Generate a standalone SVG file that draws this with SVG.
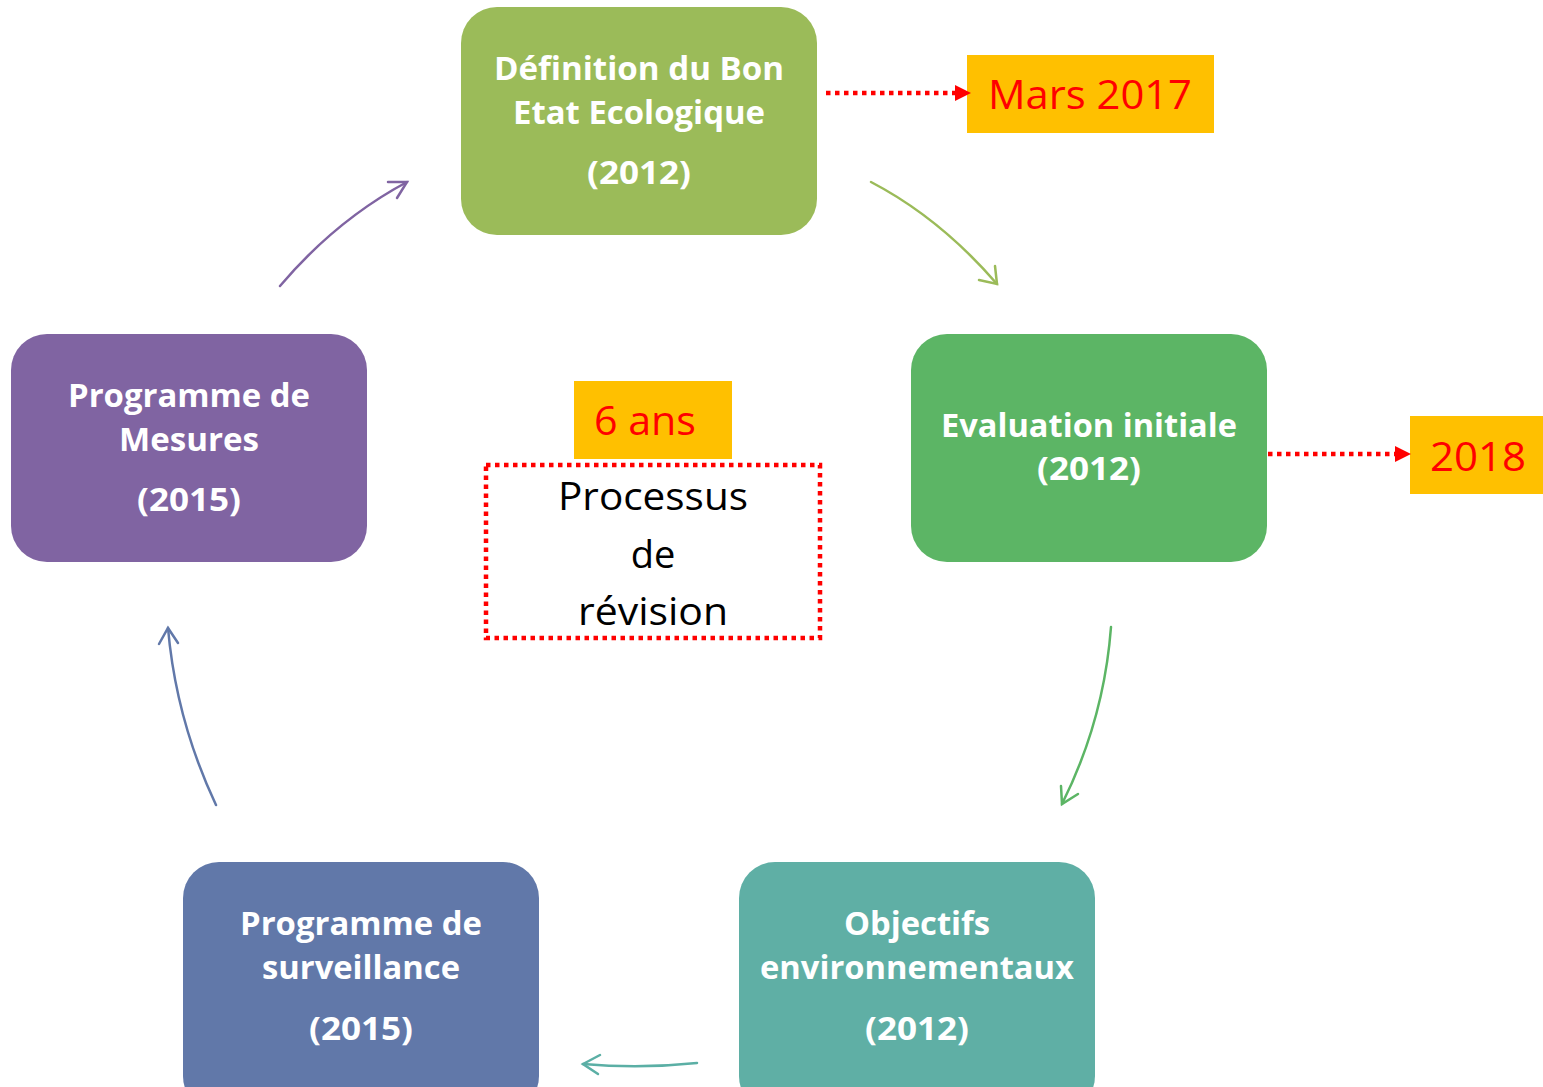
<svg xmlns="http://www.w3.org/2000/svg" width="1543" height="1087" viewBox="0 0 1543 1087">
<defs>
<style>
.nt{font-family:"Open Sans","Liberation Sans",sans-serif;font-weight:bold;font-size:32px;fill:#fff;text-anchor:middle}
.lab{font-family:"Open Sans","Liberation Sans",sans-serif;font-size:40px;fill:#ff0000;text-anchor:middle}
.blk{font-family:"Open Sans","Liberation Sans",sans-serif;font-size:38px;fill:#000;text-anchor:middle}
.curve{fill:none;stroke-width:2.5;stroke-linecap:round}
.dot{fill:none;stroke:#ff0000;stroke-width:4.5;stroke-dasharray:4.5 4.5}
.head{fill:#ff0000}
</style>
</defs>
<rect width="1543" height="1087" fill="#fff"/>
<g id="node-definition">
<rect x="461" y="7" width="356" height="228" rx="36" fill="#9BBB59"/>
<text class="nt" x="639" y="80" textLength="290" lengthAdjust="spacingAndGlyphs">Définition du Bon</text>
<text class="nt" x="639" y="124" textLength="252" lengthAdjust="spacingAndGlyphs">Etat Ecologique</text>
<text class="nt" x="639" y="184" textLength="104" lengthAdjust="spacingAndGlyphs">(2012)</text>
</g>
<g id="node-evaluation">
<rect x="911" y="334" width="356" height="228" rx="36" fill="#5CB565"/>
<text class="nt" x="1089" y="437" textLength="296" lengthAdjust="spacingAndGlyphs">Evaluation initiale</text>
<text class="nt" x="1089" y="480" textLength="104" lengthAdjust="spacingAndGlyphs">(2012)</text>
</g>
<g id="node-objectifs">
<rect x="739" y="862" width="356" height="250" rx="36" fill="#5FAFA5"/>
<text class="nt" x="917" y="935" textLength="146" lengthAdjust="spacingAndGlyphs">Objectifs</text>
<text class="nt" x="917" y="979" textLength="314" lengthAdjust="spacingAndGlyphs">environnementaux</text>
<text class="nt" x="917" y="1040" textLength="104" lengthAdjust="spacingAndGlyphs">(2012)</text>
</g>
<g id="node-surveillance">
<rect x="183" y="862" width="356" height="250" rx="36" fill="#6178A9"/>
<text class="nt" x="361" y="935" textLength="242" lengthAdjust="spacingAndGlyphs">Programme de</text>
<text class="nt" x="361" y="979" textLength="198" lengthAdjust="spacingAndGlyphs">surveillance</text>
<text class="nt" x="361" y="1040" textLength="104" lengthAdjust="spacingAndGlyphs">(2015)</text>
</g>
<g id="node-mesures">
<rect x="11" y="334" width="356" height="228" rx="36" fill="#8064A2"/>
<text class="nt" x="189" y="407" textLength="242" lengthAdjust="spacingAndGlyphs">Programme de</text>
<text class="nt" x="189" y="451" textLength="140" lengthAdjust="spacingAndGlyphs">Mesures</text>
<text class="nt" x="189" y="511" textLength="104" lengthAdjust="spacingAndGlyphs">(2015)</text>
</g>
<g id="label-mars2017">
<rect x="967" y="55" width="247" height="78" fill="#FFC000"/>
<text class="lab" x="1090" y="109" textLength="204" lengthAdjust="spacingAndGlyphs">Mars 2017</text>
</g>
<g id="label-2018">
<rect x="1410" y="416" width="133" height="78" fill="#FFC000"/>
<text class="lab" x="1478" y="471" textLength="96" lengthAdjust="spacingAndGlyphs">2018</text>
</g>
<g id="label-6ans">
<rect x="574" y="381" width="158" height="78" fill="#FFC000"/>
<text class="lab" x="645" y="435" textLength="102" lengthAdjust="spacingAndGlyphs">6 ans</text>
</g>
<g id="node-processus">
<rect class="dot" x="486" y="465" width="334" height="173"/>
<text class="blk" x="653" y="510" textLength="190" lengthAdjust="spacingAndGlyphs">Processus</text>
<text class="blk" x="653" y="568">de</text>
<text class="blk" x="653" y="625" textLength="150" lengthAdjust="spacingAndGlyphs">révision</text>
</g>
<g id="connectors">
<line class="dot" x1="826" y1="93" x2="956" y2="93"/>
<polygon class="head" points="955,85 971,93 955,101"/>
<line class="dot" x1="1268" y1="454" x2="1396" y2="454"/>
<polygon class="head" points="1395,446 1411,454 1395,462"/>
<path class="curve" stroke="#9BBB59" d="M871,182 Q940,218 997,284"/>
<path class="curve" stroke="#9BBB59" d="M979,280 L997,284 L995,266"/>
<path class="curve" stroke="#5CB565" d="M1111,627 Q1104,720 1062,804"/>
<path class="curve" stroke="#5CB565" d="M1061,786 L1062,804 L1078,794"/>
<path class="curve" stroke="#5BAFA5" d="M697,1063 Q640,1069 583,1064"/>
<path class="curve" stroke="#5BAFA5" d="M600,1055 L583,1064 L598,1074"/>
<path class="curve" stroke="#6178A9" d="M216,805 Q176,720 168,628"/>
<path class="curve" stroke="#6178A9" d="M159,644 L168,628 L178,643"/>
<path class="curve" stroke="#8064A2" d="M280,286 Q336,220 407,182"/>
<path class="curve" stroke="#8064A2" d="M388,182 L407,182 L397,198"/>
</g>
</svg>
